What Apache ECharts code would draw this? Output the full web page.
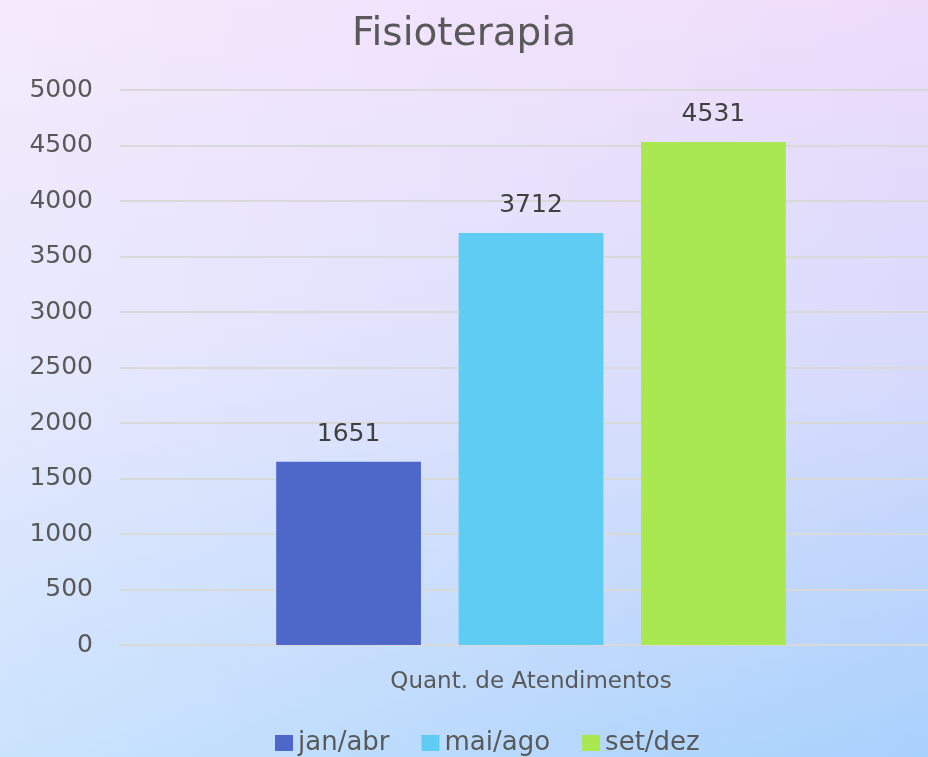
<!DOCTYPE html>
<html>
<head>
<meta charset="utf-8">
<script src="https://cdn.jsdelivr.net/npm/echarts@6/dist/echarts.min.js"></script>
<style>
    html, body { margin: 0; padding: 0; }
    #main { width: 928px; height: 757px; }
</style>
</head>
<body>
<div id="main"></div>
<script>
    // dados do gráfico
    var categorias = ['Quant. de Atendimentos'];
    var periodos = ['jan/abr', 'mai/ago', 'set/dez'];
    var valores = [1651, 3712, 4531];
    var cores = ['#4e68c9', '#5fcdf3', '#aae852'];
    var fonte = '"DejaVu Sans", sans-serif';
    var cinza = '#595959';

    var series = periodos.map(function (p, i) {
        return {
            name: p,
            type: 'bar',
            data: [valores[i]],
            itemStyle: { color: cores[i] },
            barGap: '26%',
            barCategoryGap: '38%',
            label: {
                show: true,
                position: 'top',
                distance: 15,
                color: '#404040',
                fontFamily: fonte,
                fontSize: 25
            }
        };
    });

    var myChart = echarts.init(document.getElementById('main'));
    myChart.setOption({
        backgroundColor: new echarts.graphic.LinearGradient(0, 0, 0, 1, [
            { offset: 0, color: '#efdcfb' },
            { offset: 0.5, color: '#d6dafc' },
            { offset: 1, color: '#a8d1fc' }
        ]),
        graphic: [{
            type: 'rect',
            z: -10,
            silent: true,
            shape: { x: 0, y: 0, width: 928, height: 757 },
            style: {
                fill: new echarts.graphic.LinearGradient(0, 0, 1, 0, [
                    { offset: 0, color: 'rgba(255,255,255,0.4)' },
                    { offset: 1, color: 'rgba(255,255,255,0)' }
                ])
            }
        }],
        title: {
            text: 'Fisioterapia',
            left: 'center',
            top: 10,
            textStyle: { fontFamily: fonte, fontSize: 39, fontWeight: 'normal', color: cinza }
        },
        legend: {
            top: 725,
            left: 270,
            itemWidth: 18,
            itemHeight: 16,
            itemGap: 32,
            icon: 'rect',
            textStyle: { fontFamily: fonte, fontSize: 26, color: cinza }
        },
        grid: {
            left: 120, width: 822, top: 90, bottom: 112,
            containLabel: false, outerBoundsMode: 'none'
        },
        xAxis: {
            type: 'category',
            data: categorias,
            axisLine: { show: true, lineStyle: { color: '#d9d9d9', width: 2 } },
            axisTick: { show: false },
            axisLabel: { fontFamily: fonte, fontSize: 23, color: cinza, margin: 26 }
        },
        yAxis: {
            type: 'value',
            min: 0,
            max: 5000,
            interval: 500,
            axisLine: { show: false },
            axisTick: { show: false },
            splitLine: { lineStyle: { color: '#d9d9d9', width: 2 } },
            axisLabel: {
                fontFamily: fonte, fontSize: 25, color: cinza, margin: 27,
                formatter: function (v) { return String(v); }
            }
        },
        series: series
    });
</script>
</body>
</html>
